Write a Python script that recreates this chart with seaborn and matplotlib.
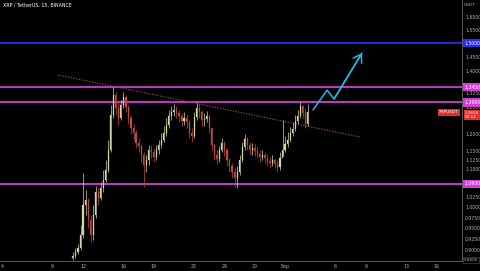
import numpy as np
import pandas as pd
import matplotlib
matplotlib.use("Agg")
import matplotlib.pyplot as plt
import seaborn as sns

# ---------------- data ----------------
title = "XRP / TetherUS, 15, BINANCE"
bar_start_day = 11.0      # day-of-month (August) of first bar
bar_step_days = 0.25
open_first = 0.882
close_ = [0.887, 0.896, 0.904, 0.934, 1.006, 1.018, 0.969, 0.934, 0.981, 1.039,
          1.023, 1.049, 1.070, 1.097, 1.152, 1.256, 1.320, 1.278, 1.247, 1.288,
          1.313, 1.281, 1.247, 1.217, 1.202, 1.172, 1.164, 1.138, 1.110, 1.124,
          1.152, 1.147, 1.132, 1.152, 1.167, 1.181, 1.202, 1.226, 1.253, 1.265,
          1.272, 1.262, 1.253, 1.238, 1.247, 1.235, 1.202, 1.193, 1.250, 1.278,
          1.265, 1.241, 1.244, 1.253, 1.217, 1.167, 1.138, 1.127, 1.152, 1.172,
          1.152, 1.124, 1.108, 1.091, 1.075, 1.091, 1.124, 1.161, 1.184, 1.167,
          1.152, 1.158, 1.149, 1.141, 1.132, 1.138, 1.130, 1.121, 1.116, 1.124,
          1.113, 1.105, 1.130, 1.152, 1.169, 1.181, 1.202, 1.214, 1.238, 1.253,
          1.284, 1.262, 1.229, 1.265]
high_ = [0.896, 0.904, 0.914, 0.957, 1.089, 1.044, 1.023, 0.981, 1.006, 1.054,
         1.049, 1.065, 1.097, 1.124, 1.181, 1.288, 1.346, 1.330, 1.297, 1.304,
         1.330, 1.320, 1.288, 1.256, 1.229, 1.210, 1.187, 1.169, 1.147, 1.138,
         1.167, 1.167, 1.158, 1.167, 1.181, 1.202, 1.223, 1.247, 1.272, 1.284,
         1.291, 1.284, 1.272, 1.262, 1.265, 1.259, 1.241, 1.217, 1.265, 1.294,
         1.291, 1.272, 1.262, 1.269, 1.256, 1.220, 1.172, 1.152, 1.164, 1.187,
         1.178, 1.158, 1.130, 1.116, 1.102, 1.108, 1.138, 1.175, 1.199, 1.190,
         1.175, 1.172, 1.169, 1.161, 1.152, 1.152, 1.147, 1.141, 1.132, 1.138,
         1.130, 1.124, 1.147, 1.241, 1.193, 1.204, 1.220, 1.235, 1.256, 1.272,
         1.297, 1.288, 1.278, 1.291]
low_ = [0.878, 0.882, 0.891, 0.900, 0.927, 0.981, 0.950, 0.918, 0.923, 0.974,
        1.006, 1.018, 1.039, 1.065, 1.091, 1.147, 1.247, 1.256, 1.226, 1.241,
        1.278, 1.265, 1.229, 1.199, 1.181, 1.158, 1.147, 1.119, 1.052, 1.091,
        1.110, 1.130, 1.119, 1.124, 1.141, 1.158, 1.175, 1.193, 1.217, 1.241,
        1.253, 1.247, 1.235, 1.223, 1.226, 1.217, 1.187, 1.175, 1.187, 1.241,
        1.247, 1.223, 1.223, 1.235, 1.202, 1.152, 1.124, 1.113, 1.119, 1.147,
        1.135, 1.108, 1.091, 1.075, 1.052, 1.049, 1.083, 1.119, 1.152, 1.152,
        1.138, 1.138, 1.135, 1.130, 1.119, 1.124, 1.116, 1.108, 1.102, 1.108,
        1.102, 1.091, 1.097, 1.135, 1.147, 1.161, 1.175, 1.193, 1.207, 1.229,
        1.247, 1.247, 1.217, 1.223]

level_blue = [1.5000]
levels_magenta = [1.3450, 1.2960, 1.0600]
trend_days = [9.5, 39.4]
trend_prices = [1.387, 1.190]
proj_days = [34.77, 36.16, 36.85, 39.62]
proj_prices = [1.272, 1.336, 1.307, 1.464]
last_price = 1.2650
countdown = "00:12"
symbol = "XRPUSDT"
corner_price = "0.8800"
price_ticks = [1.60, 1.55, 1.45, 1.40, 1.35, 1.325, 1.28, 1.20, 1.15, 1.125,
               1.10, 1.025, 1.00, 0.975, 0.95, 0.925, 0.90]
date_ticks = [4, 9, 12, 16, 19, 23, 26, 29, 32, 37, 40, 44, 47]
date_labels = ["4", "9", "12", "16", "19", "23", "26", "29", "Sep", "6", "9", "13", "16"]

# ---------------- style ----------------
sns.set_theme(style="dark", rc={"axes.facecolor": "black", "figure.facecolor": "black",
                                "axes.grid": False})
plt.rcParams["font.family"] = ["DejaVu Sans"]

TXT = "#b0b0b0"
UP = "#cfd6a2"
DOWN = "#c24a44"
BLUE = "#2b2bf0"
MAG = "#d23fd6"
CYAN = "#25b6e6"
TREND = "#8c4a5c"
RED = "#e0302c"

fig = plt.figure(figsize=(4.8, 2.71), dpi=100, facecolor="black")
ax = fig.add_axes([0, 10 / 271, 462 / 480, 261 / 271])
ax.set_facecolor("black")
ax.set_yscale("log")
ax.set_ylim(0.876, 1.669)
ax.set_xlim(3.78, 49.52)

n = len(close_)
df = pd.DataFrame({
    "day": bar_start_day + bar_step_days * np.arange(n),
    "close": close_, "high": high_, "low": low_,
})
df["open"] = [open_first] + close_[:-1]
df["up"] = df["close"] >= df["open"]
colors = np.where(df["up"], UP, DOWN)

# horizontal levels
for lv in level_blue:
    ax.axhline(lv, color=BLUE, lw=1.3, zorder=1)
for lv in levels_magenta:
    ax.axhline(lv, color=MAG, lw=1.3, zorder=1)

# trend line (dotted)
sns.lineplot(x=trend_days, y=trend_prices, ax=ax, color=TREND, lw=0.8,
             linestyle=(0, (1.2, 1.2)), zorder=2)

# candles
ax.vlines(df["day"], df["low"], df["high"], colors=colors, lw=0.5, zorder=3)
bottoms = np.minimum(df["open"], df["close"])
heights = np.abs(df["close"] - df["open"])
ax.bar(df["day"], heights, bottom=bottoms, width=0.11, color=colors,
       edgecolor=colors, lw=0.2, zorder=4)

# projection path with arrow
sns.lineplot(x=proj_days, y=proj_prices, ax=ax, sort=False,
             color=CYAN, lw=1.1, zorder=5)
ax.annotate("", xy=(proj_days[-1], proj_prices[-1]),
            xytext=(proj_days[-2], proj_prices[-2]),
            arrowprops=dict(arrowstyle="->,head_length=0.45,head_width=0.3",
                            color=CYAN, lw=1.1, shrinkA=0, shrinkB=0), zorder=6)

# axes decoration
for s in ["top", "left"]:
    ax.spines[s].set_visible(False)
ax.spines["right"].set_color("#6a6a6a")
ax.spines["right"].set_linewidth(0.6)
ax.spines["bottom"].set_color("#6a6a6a")
ax.spines["bottom"].set_linewidth(0.6)

ax.yaxis.tick_right()
ax.set_yticks(price_ticks)
ax.set_yticklabels([f"{t:.4f}" for t in price_ticks])
ax.yaxis.set_minor_locator(matplotlib.ticker.NullLocator())
ax.tick_params(axis="y", which="both", length=0, pad=2.2, labelsize=3.3, labelcolor=TXT)
ax.set_xticks(date_ticks)
ax.set_xticklabels(date_labels)
ax.tick_params(axis="x", length=0, pad=2.0, labelsize=3.4, labelcolor=TXT)
ax.set_xlabel("")
ax.set_ylabel("")

# price labels on axis
def axis_label(price, text, fc, tc="white"):
    ax.annotate(text, xy=(1.0, price), xycoords=("axes fraction", "data"),
                xytext=(2.0, 0), textcoords="offset points", ha="left", va="center",
                fontsize=3.3, color=tc, zorder=10, annotation_clip=False,
                bbox=dict(boxstyle="square,pad=0.35", fc=fc, ec="none"))

for lv in level_blue:
    axis_label(lv, f"{lv:.4f}", BLUE)
for lv in levels_magenta:
    axis_label(lv, f"{lv:.4f}", MAG)

ax.annotate(f"{last_price:.4f}\n{countdown}", xy=(1.0, last_price),
            xycoords=("axes fraction", "data"), xytext=(2.0, 1.0),
            textcoords="offset points", ha="left", va="top", fontsize=3.0,
            color="white", linespacing=1.0, zorder=10, annotation_clip=False,
            bbox=dict(boxstyle="square,pad=0.25", fc=RED, ec="none"))
ax.annotate(symbol, xy=(1.0, last_price), xycoords=("axes fraction", "data"),
            xytext=(-2.5, 0), textcoords="offset points", ha="right", va="center",
            fontsize=3.0, color="white", zorder=10, annotation_clip=False,
            bbox=dict(boxstyle="square,pad=0.35", fc=RED, ec="none"))

fig.text(3 / 480, 1 - 5 / 271, title, color="white", fontsize=3.4, va="center", ha="left")
fig.text(470 / 480, 1 - 5 / 271, "USDT", color=TXT, fontsize=3.2, va="center", ha="center")
fig.text(471 / 480, 1 - 260 / 271, corner_price, color=TXT, fontsize=3.0, va="center",
         ha="center", bbox=dict(boxstyle="square,pad=0.3", fc="black", ec="#555555", lw=0.4))

fig.savefig("out.png", dpi=100, facecolor="black")
